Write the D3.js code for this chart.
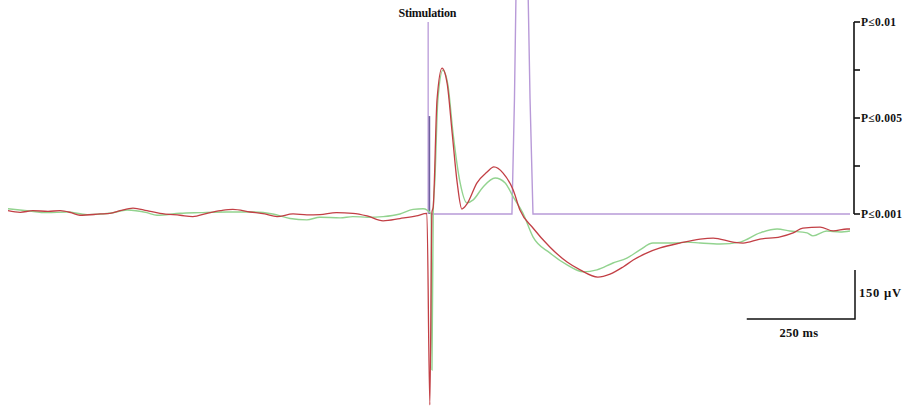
<!DOCTYPE html>
<html>
<head>
<meta charset="utf-8">
<script src="https://cdn.jsdelivr.net/npm/d3@7"></script>
<style>
  body { margin: 0; background: #fff; }
  text { font-family: 'Liberation Serif', 'DejaVu Serif', serif; font-weight: bold; fill: #111; }
</style>
</head>
<body>
<div id="chart"></div>
<script>
// time in ms relative to stimulation, amplitude in µV
const redTime = [-1000, -971, -941, -905, -876, -850, -829, -781, -758, -734, -703, -670, -639, -591, -561, -527, -495, -466, -425, -390, -361, -323, -290, -259, -220, -181, -147, -109, -69, -30, -5,
  2, 7, 10, 19, 31, 43, 55, 67, 78, 90, 114, 138, 154, 176, 200, 216, 247, 287, 328, 359, 401, 430, 461, 485, 518, 549, 596, 644, 675, 722, 746, 786, 834, 865, 888, 929, 960, 993, 1000]
const redValue = [4, -1, 4, 2, 4, -2, -10, -6, -4, 4, 12, 4, -4, -10, -14, -4, 4, 8, 0, -6, -14, -6, -9, -8, -2, -4, -12, -27, -20, -12, -4,
  -590, 0, 15, 342, 440, 394, 242, 89, 9, 24, 89, 122, 138, 119, 67, 6, -49, -107, -153, -177, -199, -190, -168, -147, -125, -110, -95, -83, -80, -92, -95, -83, -76, -64, -49, -46, -58, -52, -52]

const greenTime = [-1000, -955, -907, -860, -812, -758, -717, -670, -646, -591, -544, -480, -418, -371, -330, -290, -259, -211, -181, -145, -109, -69, -38, -14,
  5, 7, 10, 14, 21, 33, 45, 57, 74, 90, 105, 128, 157, 181, 200, 223, 247, 287, 328, 366, 399, 437, 470, 501, 532, 580, 613, 644, 691, 739, 786, 827, 857, 898, 912, 945, 976, 1000]
const greenValue = [10, 4, -2, 0, -8, -4, 6, -2, -10, -4, -2, 0, 0, -6, -20, -24, -16, -18, -14, -16, -14, -6, 8, 10,
  -6, -483, 0, 98, 342, 434, 388, 242, 89, 28, 37, 76, 104, 89, 46, -3, -76, -125, -162, -183, -177, -156, -141, -116, -95, -95, -92, -95, -98, -92, -64, -52, -58, -64, -73, -58, -61, -58]

// significance trace, in P-level steps (0 = P≤0.001, 2 = P≤0.01)
const pTime = [5, 197, 203, 207, 235, 240, 247, 1000]
const pLevel = [0, 0, 1.2, 2.4, 2.4, 1.2, 0, 0]
const pTickLevels = [0, 0.5, 1, 1.5, 2]
const pLabels = { 0: 'P≤0.001', 1: 'P≤0.005', 2: 'P≤0.01' }

const width = 905
const height = 411

const svg = d3.select('#chart')
  .append('svg')
  .attr('width', width)
  .attr('height', height)

const x = d3.scaleLinear().domain([-1000, 1000]).range([8, 850])
const y = d3.scaleLinear().domain([-600, 600]).range([408.2, 15.8])
const yP = d3.scaleLinear().domain([0, 2]).range([214, 22])

const line = d3.line()
  .x(d => x(d[0]))
  .y(d => y(d[1]))
  .curve(d3.curveMonotoneX)

// stimulation marker
svg.append('line')
  .attr('x1', x(-2)).attr('x2', x(-2))
  .attr('y1', yP(2)).attr('y2', yP(0))
  .attr('stroke', '#b89ad8').attr('stroke-width', 1.3)

svg.append('text')
  .attr('x', x(-4))
  .attr('y', 17)
  .attr('text-anchor', 'middle')
  .attr('font-size', 12)
  .attr('letter-spacing', -0.2)
  .text('Stimulation')

// p-value trace
svg.append('path')
  .datum(pTime.map((t, i) => [t, pLevel[i]]))
  .attr('fill', 'none')
  .attr('stroke', '#b89ad8')
  .attr('stroke-width', 1.4)
  .attr('d', d3.line().x(d => x(d[0])).y(d => yP(d[1])))

svg.append('line')
  .attr('x1', x(1)).attr('x2', x(1))
  .attr('y1', yP(1.02)).attr('y2', yP(0))
  .attr('stroke', '#6f5f9f').attr('stroke-width', 1.6)

// EEG traces
svg.append('path')
  .datum(greenTime.map((t, i) => [t, greenValue[i]]))
  .attr('fill', 'none')
  .attr('stroke', '#92d38f')
  .attr('stroke-width', 1.4)
  .attr('d', line)

svg.append('path')
  .datum(redTime.map((t, i) => [t, redValue[i]]))
  .attr('fill', 'none')
  .attr('stroke', '#c23f45')
  .attr('stroke-width', 1.3)
  .attr('d', line)

// right P axis
const axisX = 854
svg.append('line')
  .attr('x1', axisX).attr('x2', axisX)
  .attr('y1', yP(2)).attr('y2', yP(0))
  .attr('stroke', '#111').attr('stroke-width', 1.6)

pTickLevels.forEach(l => {
  svg.append('line')
    .attr('x1', axisX).attr('x2', axisX + 6)
    .attr('y1', yP(l)).attr('y2', yP(l))
    .attr('stroke', '#111').attr('stroke-width', 1.6)
  if (pLabels[l] !== undefined) {
    svg.append('text')
      .attr('x', axisX + 7)
      .attr('y', yP(l) + 4)
      .attr('font-size', 11.5)
      .attr('letter-spacing', 0.3)
      .text(pLabels[l])
  }
})

// scale bars
const barRight = 855
const barBottom = 319
const barW = x(250) - x(0) + 3
const barH = y(0) - y(150)
svg.append('path')
  .attr('d', `M${barRight - barW},${barBottom}H${barRight}V${barBottom - barH}`)
  .attr('fill', 'none')
  .attr('stroke', '#111')
  .attr('stroke-width', 1.5)

svg.append('text')
  .attr('x', barRight - barW / 2 - 2)
  .attr('y', barBottom + 18)
  .attr('text-anchor', 'middle')
  .attr('font-size', 12.5)
  .attr('letter-spacing', 0.3)
  .text('250 ms')

svg.append('text')
  .attr('x', barRight + 4)
  .attr('y', barBottom - 22)
  .attr('font-size', 12.5)
  .attr('letter-spacing', 0.8)
  .text('150 µV')
</script>
</body>
</html>
